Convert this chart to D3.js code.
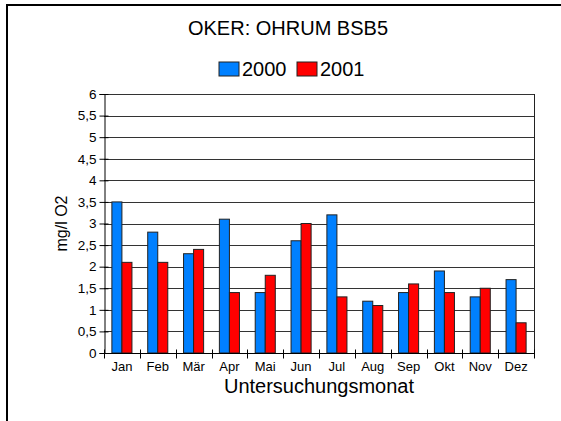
<!DOCTYPE html>
<html>
<head>
<meta charset="utf-8">
<script src="https://cdn.jsdelivr.net/npm/d3@7"></script>
<style>
  html, body { margin: 0; padding: 0; background: #fff; }
  text { font-family: "Liberation Sans", Arial, sans-serif; fill: #000; }
</style>
</head>
<body>
<div id="chart"></div>
<script>
// Monthly BSB5 values (mg/l O2)
const months = ["Jan", "Feb", "Mär", "Apr", "Mai", "Jun", "Jul", "Aug", "Sep", "Okt", "Nov", "Dez"];
const years = ["2000", "2001"];
const values2000 = [3.5, 2.8, 2.3, 3.1, 1.4, 2.6, 3.2, 1.2, 1.4, 1.9, 1.3, 1.7];
const values2001 = [2.1, 2.1, 2.4, 1.4, 1.8, 3.0, 1.3, 1.1, 1.6, 1.4, 1.5, 0.7];
const yTicks = [0, 0.5, 1, 1.5, 2, 2.5, 3, 3.5, 4, 4.5, 5, 5.5, 6];

const series = [values2000, values2001];
const colors = ["#0080ff", "#ff0000"];

const W = 561, H = 421;
const margin = {top: 94, right: 27, bottom: 68, left: 104};
const width = W - margin.left - margin.right;
const height = H - margin.top - margin.bottom;

const svg = d3.select("#chart").append("svg")
  .attr("width", W)
  .attr("height", H);

// outer frame (top + left edge)
svg.append("path")
  .attr("d", `M7,${H} V5 H${W}`)
  .attr("fill", "none")
  .attr("stroke", "#000")
  .attr("stroke-width", 2);

const g = svg.append("g")
  .attr("transform", `translate(${margin.left},${margin.top})`);

// Scales
const x = d3.scaleBand()
  .domain(months)
  .range([0, width])
  .paddingInner(0.44)
  .paddingOuter(0.22);

const xSub = d3.scaleBand()
  .domain(years)
  .range([0, x.bandwidth()]);

const y = d3.scaleLinear()
  .domain([0, 6])
  .range([height, 0]);

const fmt = d => String(d).replace(".", ",");

// Gridlines
g.append("g")
  .selectAll("line")
  .data(yTicks.slice(1))
  .join("line")
  .attr("x1", 0)
  .attr("x2", width)
  .attr("y1", d => Math.round(y(d)) + 0.5)
  .attr("y2", d => Math.round(y(d)) + 0.5)
  .attr("stroke", "#333")
  .attr("stroke-width", 1);

// right border of plot
g.append("line")
  .attr("x1", width + 0.5).attr("x2", width + 0.5)
  .attr("y1", 0).attr("y2", height)
  .attr("stroke", "#222");

// Bars
g.append("g")
  .selectAll("g")
  .data(months)
  .join("g")
  .attr("transform", d => `translate(${x(d)},0)`)
  .selectAll("rect")
  .data((d, i) => series.map((s, k) => ({year: years[k], value: s[i], k})))
  .join("rect")
  .attr("x", d => xSub(d.year))
  .attr("y", d => y(d.value))
  .attr("width", xSub.bandwidth())
  .attr("height", d => height - y(d.value))
  .attr("fill", d => colors[d.k])
  .attr("stroke", "#222")
  .attr("stroke-width", 1);

// Y axis
const yAxis = d3.axisLeft(y)
  .tickValues(yTicks)
  .tickFormat(fmt)
  .tickSize(5)
  .tickPadding(4);

const ya = g.append("g")
  .attr("transform", "translate(0.5,0)")
  .call(yAxis);
ya.select(".domain").attr("stroke", "#000");
ya.selectAll(".tick line").attr("stroke", "#000").attr("x2", -5).attr("x1", 4);
ya.selectAll(".tick text")
  .style("font-size", "13.5px")
  .attr("x", -8);

// X axis: ticks at category boundaries
const xa = g.append("g")
  .attr("transform", `translate(0,${height + 0.5})`);
xa.append("line")
  .attr("x1", 0).attr("x2", width)
  .attr("stroke", "#000");
xa.selectAll(".bound")
  .data(d3.range(months.length + 1))
  .join("line")
  .attr("class", "bound")
  .attr("x1", i => Math.round(i * x.step()) + 0.5)
  .attr("x2", i => Math.round(i * x.step()) + 0.5)
  .attr("y1", -4)
  .attr("y2", 5)
  .attr("stroke", "#000");
xa.selectAll(".lbl")
  .data(months)
  .join("text")
  .attr("class", "lbl")
  .attr("x", d => x(d) + x.bandwidth() / 2)
  .attr("y", 17)
  .attr("text-anchor", "middle")
  .style("font-size", "13px")
  .text(d => d);

// Axis titles
svg.append("text")
  .attr("x", margin.left + width / 2)
  .attr("y", 393)
  .attr("text-anchor", "middle")
  .style("font-size", "20px")
  .text("Untersuchungsmonat");

svg.append("text")
  .attr("transform", `translate(67,${margin.top + height / 2}) rotate(-90)`)
  .attr("text-anchor", "middle")
  .style("font-size", "16px")
  .text("mg/l O2");

// Title
svg.append("text")
  .attr("x", 288)
  .attr("y", 35)
  .attr("text-anchor", "middle")
  .style("font-size", "20px")
  .text("OKER: OHRUM BSB5");

// Legend
const legend = svg.append("g").attr("transform", "translate(219,62)");
const items = legend.selectAll("g")
  .data(years)
  .join("g")
  .attr("transform", (d, i) => `translate(${i * 78},0)`);
items.append("rect")
  .attr("width", 20)
  .attr("height", 14)
  .attr("fill", (d, i) => colors[i])
  .attr("stroke", "#222");
items.append("text")
  .attr("x", 23)
  .attr("y", 14)
  .style("font-size", "20px")
  .text(d => d);
</script>
</body>
</html>
